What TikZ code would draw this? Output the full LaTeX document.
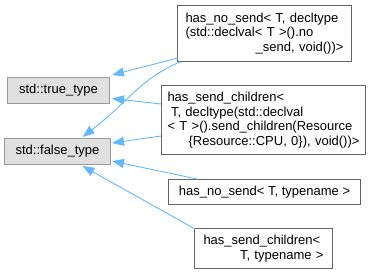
\documentclass[tikz,border=0pt]{standalone}
\usepackage{fontspec}
\setmainfont{Liberation Sans}
\usetikzlibrary{arrows.meta,calc}
\definecolor{edgeblue}{HTML}{63B8FF}
\definecolor{basefill}{HTML}{E0E0E0}
\definecolor{baseframe}{HTML}{999999}
\definecolor{classframe}{HTML}{666666}
\begin{document}
\begin{tikzpicture}[x=1pt,y=-1pt,
  classbox/.style={draw=classframe, fill=white, line width=1pt, inner sep=0pt,
    font=\fontsize{13}{14.5}\selectfont, anchor=north west},
  basebox/.style={classbox, draw=baseframe, fill=basefill},
  inherit/.style={draw=edgeblue, line width=0.9pt,
    -{Triangle[length=12pt,width=9pt]}}
]
\useasboundingbox (0,0) rectangle (371,275);

% base classes
\node[basebox, minimum width=102pt, minimum height=26pt] (T) at (7,77) {std::true\_type};
\node[basebox, minimum width=106pt, minimum height=26pt] (F) at (4,138) {std::false\_type};

% specialisations
\node[classbox, align=left, text width=158pt, inner xsep=8pt, minimum height=56pt] (A) at (177,5)
  {has\_no\_send< T, decltype\\(std::declval< T >().no\\\hspace*{\fill}\_send, void())>\hspace*{\fill}};
\node[classbox, align=left, text width=192pt, inner xsep=6pt, minimum height=69pt] (B) at (161,85)
  {has\_send\_children<\\\hspace*{3.5pt}T, decltype(std::declval\\< T >().send\_children(Resource\\\hspace*{\fill}\hspace*{3.5pt}\{Resource::CPU, 0\}), void())>\hspace*{\fill}};
\node[classbox, minimum width=192pt, minimum height=25pt] (C) at (168,179)
  {has\_no\_send< T, typename >};
\node[classbox, align=left, text width=120pt, inner xsep=9pt, minimum height=40pt] (D) at (194,228)
  {has\_send\_children<\\\hspace*{\fill}T, typename >\hspace*{\fill}};

% inheritance edges
\draw[inherit] ($(A.south west)+(1,-4)$) -- ($(T.north east)+(2,-2)$);
\draw[inherit] ($(A.south west)+(3,0)$) .. controls +(-40,17) and +(48,-37) .. ($(F.north)+(25,-1)$);
\draw[inherit] ($(B.north west)+(0,19)$) -- ($(T.east)+(2,8)$);
\draw[inherit] ($(B.south west)+(0,-19)$) -- ($(F.north east)+(1,5)$);
\draw[inherit] ($(C.north west)+(29,0)$) -- ($(F.south east)+(1,-4)$);
\draw[inherit] ($(D.north west)+(1,1)$) -- ($(F.south)+(25,1)$);
\end{tikzpicture}
\end{document}
